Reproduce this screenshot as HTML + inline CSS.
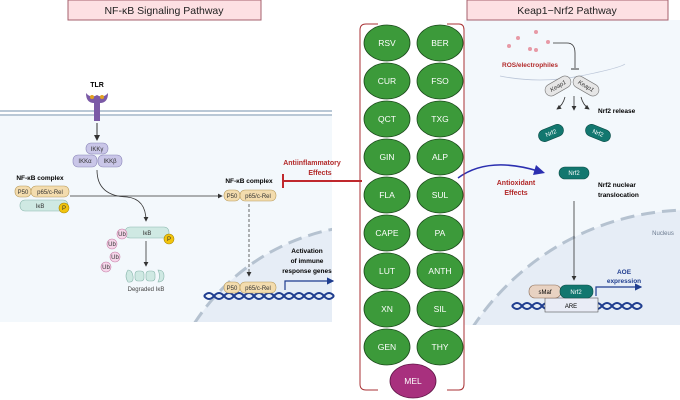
<!DOCTYPE html>
<html><head><meta charset="utf-8"><style>
html,body{margin:0;padding:0;background:#fff;width:680px;height:400px;overflow:hidden}
svg{display:block;font-family:"Liberation Sans",sans-serif}
</style></head><body>
<svg width="680" height="400" viewBox="0 0 680 400">
<defs>
<marker id="ah" markerWidth="6" markerHeight="6" refX="5" refY="3" orient="auto"><path d="M0,0L6,3L0,6z" fill="#333"/></marker>
<marker id="bh" markerWidth="6" markerHeight="6" refX="5" refY="3" orient="auto"><path d="M0,0L6,3L0,6z" fill="#1f3d8f"/></marker>
<clipPath id="lc"><rect x="0" y="114" width="332" height="208"/></clipPath>
<clipPath id="rc"><rect x="464" y="20" width="216" height="305"/></clipPath>
</defs>
<rect x="0" y="114" width="332" height="208" fill="#f3f8fc"/>
<circle cx="375" cy="440" r="215" fill="#e6edf6" clip-path="url(#lc)"/>
<circle cx="375" cy="440" r="215" fill="none" stroke="#b5c2d0" stroke-width="3" stroke-dasharray="14 7" clip-path="url(#lc)"/>
<rect x="0" y="110" width="332" height="2" fill="#b9c8d6"/>
<rect x="0" y="114" width="332" height="2" fill="#b9c8d6"/>
<rect x="68" y="0" width="193" height="20" fill="#fde0e3" stroke="#a5606e"/>
<text x="164" y="14" font-size="10.5" text-anchor="middle" fill="#222">NF-κB Signaling Pathway</text>
<text x="97" y="87" font-size="7" font-weight="bold" text-anchor="middle">TLR</text>
<path d="M86,93 q0,10 8,10 v18 h6 v-18 q8,0 8,-10 q-5,6 -11,2 q-6,4 -11,-2z" fill="#7b5aa6"/>
<circle cx="92" cy="97" r="2" fill="#e0a020"/><circle cx="102" cy="97" r="2" fill="#e0a020"/>
<line x1="97" y1="123" x2="97" y2="140" stroke="#333" marker-end="url(#ah)"/>
<g font-size="6" text-anchor="middle" fill="#333">
<rect x="86" y="143" width="22" height="11" rx="5" fill="#c9c6e8" stroke="#8a86b8" stroke-width=".6"/><text x="97" y="151">IKKγ</text>
<rect x="73" y="155" width="24" height="12" rx="5" fill="#c9c6e8" stroke="#8a86b8" stroke-width=".6"/><text x="85" y="163">IKKα</text>
<rect x="98" y="155" width="24" height="12" rx="5" fill="#c9c6e8" stroke="#8a86b8" stroke-width=".6"/><text x="110" y="163">IKKβ</text>
</g>
<text x="40" y="180" font-size="6.5" font-weight="bold" text-anchor="middle">NF-κB complex</text>
<g font-size="6" text-anchor="middle" fill="#333">
<rect x="20" y="200" width="48" height="11" rx="5" fill="#cfe9e3" stroke="#8ab7ad" stroke-width=".6"/><text x="40" y="208">IκB</text>
<rect x="15" y="186" width="16" height="11" rx="5" fill="#f3dcae" stroke="#b89a5a" stroke-width=".6"/><text x="23" y="194">P50</text>
<rect x="31" y="186" width="38" height="11" rx="5" fill="#f3dcae" stroke="#b89a5a" stroke-width=".6"/><text x="50" y="194">p65/c-Rel</text>
<circle cx="64" cy="208" r="5" fill="#f2c40d" stroke="#a88700" stroke-width=".6"/><text x="64" y="210">P</text>
</g>
<line x1="70" y1="196" x2="222" y2="196" stroke="#333" stroke-width=".8" marker-end="url(#ah)"/>
<path d="M97,170 q0,26 30,27 q19,2 19,24" fill="none" stroke="#333" stroke-width=".8" marker-end="url(#ah)"/>
<g font-size="6" text-anchor="middle" fill="#333">
<rect x="125" y="227" width="44" height="11" rx="5" fill="#cfe9e3" stroke="#8ab7ad" stroke-width=".6"/><text x="147" y="235">IκB</text>
<circle cx="169" cy="239" r="5" fill="#f2c40d" stroke="#a88700" stroke-width=".6"/><text x="169" y="241">P</text>
<circle cx="122" cy="234" r="5" fill="#f6d6ea" stroke="#c67aa4" stroke-width=".6"/><text x="122" y="236">Ub</text>
<circle cx="112" cy="244" r="5" fill="#f6d6ea" stroke="#c67aa4" stroke-width=".6"/><text x="112" y="246">Ub</text>
<circle cx="115" cy="257" r="5" fill="#f6d6ea" stroke="#c67aa4" stroke-width=".6"/><text x="115" y="259">Ub</text>
<circle cx="106" cy="267" r="5" fill="#f6d6ea" stroke="#c67aa4" stroke-width=".6"/><text x="106" y="269">Ub</text>
</g>
<line x1="146" y1="241" x2="146" y2="266" stroke="#333" stroke-width=".8" marker-end="url(#ah)"/>
<g fill="#cfe9e3" stroke="#8ab7ad" stroke-width=".6">
<path d="M128,270 q-4,6 0,12 q6,1 5,-6 q-1,-6 -5,-6z"/><rect x="135" y="271" width="9" height="10" rx="3"/><rect x="146" y="271" width="9" height="10" rx="3"/><path d="M158,270 q6,0 6,6 q0,6 -6,6 q3,-6 0,-12z"/>
</g>
<text x="146" y="291" font-size="6" text-anchor="middle" fill="#444">Degraded IκB</text>
<text x="249" y="183" font-size="6.5" font-weight="bold" text-anchor="middle">NF-κB complex</text>
<g font-size="6" text-anchor="middle" fill="#333">
<rect x="224" y="190" width="16" height="11" rx="5" fill="#f3dcae" stroke="#b89a5a" stroke-width=".6"/><text x="232" y="198">P50</text>
<rect x="240" y="190" width="36" height="11" rx="5" fill="#f3dcae" stroke="#b89a5a" stroke-width=".6"/><text x="258" y="198">p65/c-Rel</text>
</g>
<line x1="249" y1="204" x2="249" y2="276" stroke="#444" stroke-width=".8" stroke-dasharray="3 2" marker-end="url(#ah)"/>
<g font-size="6.5" font-weight="bold" text-anchor="middle"><text x="307" y="253">Activation</text><text x="307" y="263">of immune</text><text x="307" y="273">response genes</text></g>
<path d="M285,290 v-9 h48" fill="none" stroke="#1f3d8f" stroke-width="1.2" marker-end="url(#bh)"/>
<path d="M204,296 q5,-6 10,0 t10,0 t10,0 t10,0 t10,0 t10,0 t10,0 t10,0 t10,0 t10,0 t10,0 t10,0 t10,0" fill="none" stroke="#1f3d8f" stroke-width="2"/>
<path d="M204,296 q5,6 10,0 t10,0 t10,0 t10,0 t10,0 t10,0 t10,0 t10,0 t10,0 t10,0 t10,0 t10,0 t10,0" fill="none" stroke="#1f3d8f" stroke-width="2"/>
<g font-size="6" text-anchor="middle" fill="#333">
<rect x="224" y="282" width="16" height="11" rx="5" fill="#f3dcae" stroke="#b89a5a" stroke-width=".6"/><text x="232" y="290">P50</text>
<rect x="240" y="282" width="36" height="11" rx="5" fill="#f3dcae" stroke="#b89a5a" stroke-width=".6"/><text x="258" y="290">p65/c-Rel</text>
</g>
<g font-size="7" font-weight="bold" fill="#b22a2a" text-anchor="middle"><text x="312" y="165">Antiinflammatory</text><text x="320" y="175">Effects</text></g>
<line x1="283" y1="181" x2="362" y2="181" stroke="#c0282d" stroke-width="2"/>
<line x1="283" y1="174" x2="283" y2="188" stroke="#c0282d" stroke-width="2"/>
<rect x="464" y="20" width="216" height="305" fill="#f3f8fc"/>
<circle cx="690" cy="470" r="260" fill="#e6edf6" clip-path="url(#rc)"/>
<circle cx="690" cy="470" r="260" fill="none" stroke="#b5c2d0" stroke-width="3" stroke-dasharray="14 7" clip-path="url(#rc)"/>
<rect x="467" y="0" width="201" height="20" fill="#fde0e3" stroke="#a5606e"/>
<text x="567" y="14" font-size="10.5" text-anchor="middle" fill="#222">Keap1−Nrf2 Pathway</text>
<g fill="#e79aa6"><circle cx="536" cy="32" r="2"/><circle cx="518" cy="38" r="2"/><circle cx="548" cy="42" r="2"/><circle cx="509" cy="46" r="2"/><circle cx="530" cy="49" r="2"/><circle cx="536" cy="50" r="2"/></g>
<text x="530" y="67" font-size="6.5" font-weight="bold" fill="#b22a2a" text-anchor="middle">ROS/electrophiles</text>
<path d="M553,43 h14 q8,0 8,10 v15" fill="none" stroke="#333" stroke-width=".8"/>
<line x1="571" y1="69" x2="579" y2="69" stroke="#333"/>
<path d="M500,76 q40,8 80,0 t45,-12" fill="none" stroke="#bbc6d8" stroke-width=".8"/>
<g font-size="6" font-style="italic" text-anchor="middle" fill="#333">
<g transform="translate(558,86) rotate(-30)"><rect x="-14" y="-6" width="28" height="12" rx="6" fill="#e6e6e6" stroke="#777" stroke-width=".6"/><text y="2">Keap1</text></g>
<g transform="translate(586,86) rotate(30)"><rect x="-14" y="-6" width="28" height="12" rx="6" fill="#e6e6e6" stroke="#777" stroke-width=".6"/><text y="2">Keap1</text></g>
</g>
<path d="M565,97 q-2,8 -8,12" fill="none" stroke="#333" stroke-width=".8" marker-end="url(#ah)"/>
<line x1="574" y1="96" x2="574" y2="110" stroke="#333" stroke-width=".8" marker-end="url(#ah)"/>
<path d="M581,97 q2,8 8,12" fill="none" stroke="#333" stroke-width=".8" marker-end="url(#ah)"/>
<text x="598" y="113" font-size="6.5" font-weight="bold">Nrf2 release</text>
<g font-size="6" text-anchor="middle" fill="#fff">
<g transform="translate(551,133) rotate(-22)"><rect x="-13" y="-6" width="26" height="12" rx="6" fill="#12776f" stroke="#0b4d47" stroke-width=".6"/><text y="2">Nrf2</text></g>
<g transform="translate(598,133) rotate(22)"><rect x="-13" y="-6" width="26" height="12" rx="6" fill="#12776f" stroke="#0b4d47" stroke-width=".6"/><text y="2">Nrf2</text></g>
<rect x="559" y="167" width="30" height="12" rx="6" fill="#12776f" stroke="#0b4d47" stroke-width=".6"/><text x="574" y="175">Nrf2</text>
</g>
<g font-size="6.5" font-weight="bold"><text x="598" y="187">Nrf2 nuclear</text><text x="598" y="197">translocation</text></g>
<line x1="574" y1="201" x2="574" y2="280" stroke="#333" stroke-width=".8" marker-end="url(#ah)"/>
<text x="663" y="235" font-size="6" text-anchor="middle" fill="#6b7a8f">Nucleus</text>
<g font-size="7" font-weight="bold" fill="#b22a2a" text-anchor="middle"><text x="516" y="185">Antioxidant</text><text x="516" y="195">Effects</text></g>
<path d="M458,178 q30,-22 80,-7" fill="none" stroke="#2b2fb0" stroke-width="1.5"/>
<path d="M536,165 L545,173 L533,175z" fill="#2b2fb0"/>
<g font-size="6.5" font-weight="bold" fill="#1f3d8f" text-anchor="middle"><text x="624" y="274">AOE</text><text x="624" y="283">expression</text></g>
<path d="M596,296 v-9 h45" fill="none" stroke="#1f3d8f" stroke-width="1.2" marker-end="url(#bh)"/>
<path d="M512,306 q5,-6 10,0 t10,0 t10,0 t10,0 t10,0 t10,0 t10,0 t10,0 t10,0 t10,0 t10,0 t10,0 t10,0" fill="none" stroke="#1f3d8f" stroke-width="2"/>
<path d="M512,306 q5,6 10,0 t10,0 t10,0 t10,0 t10,0 t10,0 t10,0 t10,0 t10,0 t10,0 t10,0 t10,0 t10,0" fill="none" stroke="#1f3d8f" stroke-width="2"/>
<rect x="545" y="298" width="53" height="14" fill="#e9ecf6" stroke="#555" stroke-width=".6"/>
<text x="571" y="308" font-size="6" text-anchor="middle">ARE</text>
<rect x="529" y="285" width="32" height="13" rx="6" fill="#e8d2c2" stroke="#8a6b55" stroke-width=".6"/><text x="545" y="294" font-size="6" text-anchor="middle">sMaf</text>
<rect x="560" y="285" width="33" height="13" rx="6" fill="#12776f" stroke="#0b4d47" stroke-width=".6"/><text x="576" y="294" font-size="6" text-anchor="middle" fill="#fff">Nrf2</text>
<path d="M378,24 h-12 q-6,0 -6,6 v354 q0,6 6,6 h12" fill="none" stroke="#a83235" stroke-width="1"/>
<path d="M447,24 h12 q5,0 5,6 v354 q0,6 -5,6 h-12" fill="none" stroke="#a83235" stroke-width="1"/>
<g stroke="#1c4a1c" stroke-width=".8">
<g fill="#3c9a3a"><ellipse cx="387" cy="43" rx="23" ry="18"/><ellipse cx="440" cy="43" rx="23" ry="18"/>
<ellipse cx="387" cy="81" rx="23" ry="18"/><ellipse cx="440" cy="81" rx="23" ry="18"/>
<ellipse cx="387" cy="119" rx="23" ry="18"/><ellipse cx="440" cy="119" rx="23" ry="18"/>
<ellipse cx="387" cy="157" rx="23" ry="18"/><ellipse cx="440" cy="157" rx="23" ry="18"/>
<ellipse cx="387" cy="195" rx="23" ry="18"/><ellipse cx="440" cy="195" rx="23" ry="18"/>
<ellipse cx="387" cy="233" rx="23" ry="18"/><ellipse cx="440" cy="233" rx="23" ry="18"/>
<ellipse cx="387" cy="271" rx="23" ry="18"/><ellipse cx="440" cy="271" rx="23" ry="18"/>
<ellipse cx="387" cy="309" rx="23" ry="18"/><ellipse cx="440" cy="309" rx="23" ry="18"/>
<ellipse cx="387" cy="347" rx="23" ry="18"/><ellipse cx="440" cy="347" rx="23" ry="18"/></g>
<ellipse cx="413" cy="381" rx="23" ry="17" fill="#a8307e" stroke="#5e1545"/>
</g>
<g font-size="8.5" text-anchor="middle" fill="#fff">
<text x="387" y="46">RSV</text><text x="440" y="46">BER</text>
<text x="387" y="84">CUR</text><text x="440" y="84">FSO</text>
<text x="387" y="122">QCT</text><text x="440" y="122">TXG</text>
<text x="387" y="160">GIN</text><text x="440" y="160">ALP</text>
<text x="387" y="198">FLA</text><text x="440" y="198">SUL</text>
<text x="387" y="236">CAPE</text><text x="440" y="236">PA</text>
<text x="387" y="274">LUT</text><text x="440" y="274">ANTH</text>
<text x="387" y="312">XN</text><text x="440" y="312">SIL</text>
<text x="387" y="350">GEN</text><text x="440" y="350">THY</text>
<text x="413" y="384">MEL</text>
</g>
</svg>
</body></html>
